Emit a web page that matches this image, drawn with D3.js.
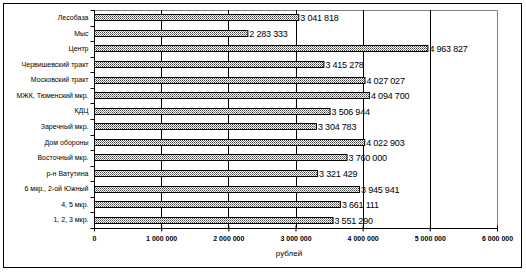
<!DOCTYPE html>
<html><head><meta charset="utf-8">
<script src="https://cdn.jsdelivr.net/npm/d3@7"></script>
<style>body{margin:0;background:#fff}svg{display:block;font-family:"Liberation Sans",Arial,sans-serif}</style>
</head><body><svg id="c" width="526" height="272"></svg>
<script>
const categories = ["Лесобаза","Мыс","Центр","Червишевский тракт","Московский тракт","МЖК, Тюменский мкр.","КДЦ","Заречный мкр.","Дом обороны","Восточный мкр.","р-н Ватутина","6 мкр., 2-ой Южный","4, 5 мкр.","1, 2, 3 мкр."];
const values = [3041818,2283333,4963827,3415278,4027027,4094700,3506944,3304783,4022903,3760000,3321429,3945941,3661111,3551290];
const tickValues = [0,1000000,2000000,3000000,4000000,5000000,6000000];
const axisTitle = "рублей";

const svg = d3.select("#c");
const fmt = v => d3.format(",")(v).replace(/,/g," ");
const L=94, R=497, T=10, B=228;
const x = d3.scaleLinear().domain([0,6000000]).range([L,R]);
const y = d3.scaleBand().domain(categories).range([T,B]).paddingInner(0.55).paddingOuter(0.275);

const defs = svg.append("defs");
const p = defs.append("pattern").attr("id","hp").attr("width",2).attr("height",2).attr("patternUnits","userSpaceOnUse");
p.append("rect").attr("width",2).attr("height",2).attr("fill","#fff");
p.append("rect").attr("width",1).attr("height",1).attr("fill","#444");
p.append("rect").attr("x",1).attr("y",1).attr("width",1).attr("height",1).attr("fill","#888");

svg.append("rect").attr("x",3.5).attr("y",3.5).attr("width",518).attr("height",264).attr("fill","#fff").attr("stroke","#000").attr("stroke-width",1);

svg.append("path").attr("d",`M${L},${T+0.5}H${R+0.5}V${B}`).attr("fill","none").attr("stroke","#808080");
svg.append("g").selectAll("line").data(tickValues.slice(1,-1)).join("line")
  .attr("x1",d=>Math.round(x(d))+0.5).attr("x2",d=>Math.round(x(d))+0.5).attr("y1",T).attr("y2",B).attr("stroke","#000");

svg.append("g").selectAll("rect").data(values).join("rect")
  .attr("x",L+0.5).attr("y",(d,i)=>Math.round(y(categories[i]))+0.5)
  .attr("width",d=>x(d)-L).attr("height",6)
  .attr("fill","url(#hp)").attr("stroke","#000").attr("stroke-width",1);

svg.append("g").selectAll("text").data(values).join("text")
  .attr("x",d=>x(d)+2).attr("y",(d,i)=>y(categories[i])+y.bandwidth()/2+3.5)
  .attr("font-size",9).attr("letter-spacing","-0.2").attr("fill","#000").text(d=>fmt(d));

const xa = svg.append("g").attr("transform",`translate(0,${B+0.5})`)
  .call(d3.axisBottom(x).tickValues(tickValues).tickSize(4).tickFormat(fmt));
xa.select(".domain").attr("stroke","#000").attr("d",`M${L},0H${R}`);
xa.selectAll(".tick line").attr("stroke","#000").attr("y1",-3).attr("y2",3);
xa.selectAll("text").attr("font-size",7).attr("font-weight","bold").attr("font-family","Liberation Sans, Arial").attr("y",8).attr("dy","0.71em");

const ya = svg.append("g").attr("transform",`translate(${L+0.5},0)`)
  .call(d3.axisLeft(y).tickSize(0).tickPadding(6));
ya.select(".domain").attr("stroke","#000").attr("d",`M0,${T}V${B}`);
ya.selectAll("text").attr("font-size",7).attr("font-family","Liberation Sans, Arial");
ya.append("g").selectAll("line").data(d3.range(categories.length+1)).join("line")
  .attr("x1",-4).attr("x2",0).attr("y1",i=>Math.round(T+i*(B-T)/categories.length)+0.5).attr("y2",i=>Math.round(T+i*(B-T)/categories.length)+0.5).attr("stroke","#000");

svg.append("text").attr("x",289).attr("y",256).attr("text-anchor","middle").attr("font-size",8).text(axisTitle);
</script></body></html>
